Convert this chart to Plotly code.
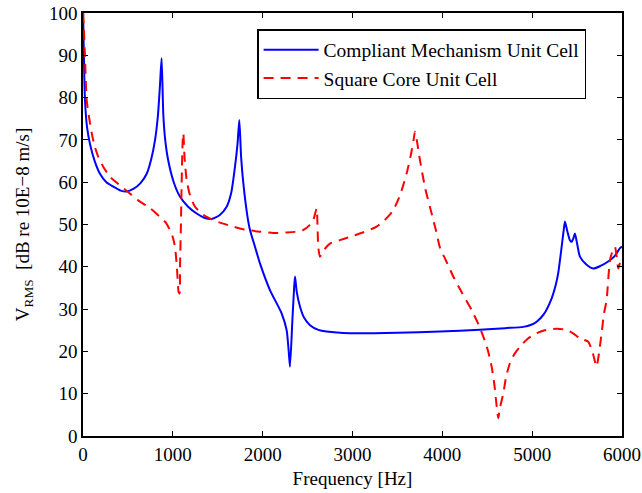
import plotly.graph_objects as go

# Compliant Mechanism Unit Cell (blue solid)
freq_cm = [3, 22, 45, 78, 130, 189, 260, 334, 420, 486, 560, 640, 709, 760, 802, 835, 857, 875,
           894, 915, 950, 1010, 1079, 1170, 1265, 1350, 1432, 1520, 1599, 1650, 1692, 1720, 1740,
           1760, 1785, 1830, 1859, 1915, 1970, 2081, 2211, 2267, 2290, 2304, 2330, 2350, 2360,
           2380, 2415, 2460, 2527, 2620, 2712, 2972, 3500, 3974, 4419, 4700, 4901, 4990, 5050,
           5130, 5216, 5260, 5290, 5328, 5350, 5365, 5390, 5420, 5439, 5460, 5476, 5500, 5532,
           5600, 5680, 5760, 5850, 5920, 5977, 6000]
vrms_cm = [98, 79.5, 73, 69, 65, 62, 60, 59, 58, 57.8, 58.4, 59.8, 62, 65.5, 70, 76, 83, 89.3,
           76, 70, 65, 60, 56.6, 54.2, 52.6, 51.6, 51.3, 52.2, 54.2, 57.5, 63.7, 69, 74.7,
           66, 59.7, 52, 48.7, 44.7, 40.8, 34.5, 29, 25, 20, 16.4, 27, 35, 37.7,
           34, 30.6, 28, 26.2, 25.1, 24.7, 24.3, 24.4, 24.7, 25.1, 25.5, 25.8, 26.3, 27,
           28.8, 32.5, 35.5, 38.5, 44.7, 48.5, 50.7, 48.5, 46.3, 45.9, 46.8, 47.9, 45.5, 42.4,
           40.6, 39.6, 40.2, 41.3, 42.6, 44.4, 44.8]

# Square Core Unit Cell (red dashed)
freq_sq = [3, 22, 41, 70, 97, 130, 170, 230, 300, 370, 449, 540, 634, 750, 857, 920, 968, 1000,
           1024, 1045, 1065, 1075, 1080, 1090, 1098, 1110, 1117, 1130, 1154, 1190, 1247, 1340,
           1451, 1560, 1673, 1800, 1970, 2120, 2267, 2380, 2452, 2520, 2563, 2601, 2610, 2619,
           2638, 2690, 2749, 2860, 2972, 3100, 3269, 3380, 3454, 3530, 3603, 3650, 3680, 3695,
           3715, 3751, 3810, 3881, 3930, 3974, 4040, 4122, 4220, 4326, 4400, 4456, 4510, 4549,
           4580, 4605, 4623, 4640, 4679, 4710, 4752, 4800, 4864, 4950, 5050, 5140, 5235, 5310,
           5383, 5460, 5532, 5580, 5624, 5670, 5700, 5717, 5740, 5773, 5800, 5829, 5866, 5900,
           5922, 5940, 5959, 5980, 6000]
vrms_sq = [100, 89.7, 79.4, 75, 71.6, 68.5, 66, 63.5, 61.3, 60, 58.6, 57, 55.4, 53.8, 51.8, 50.5,
           48.7, 47, 44.7, 40, 34, 33.7, 40, 50, 59.7, 70, 71.6, 66, 60.5, 57, 54.2, 52.3,
           51, 50.2, 49.5, 48.8, 48.3, 48, 48.1, 48.3, 48.7, 49.8, 51, 53.8, 50, 44.7,
           42.4, 44.2, 45.5, 46.3, 47.1, 48, 49.5, 51.5, 53.4, 57, 62.1, 66.5, 70, 71.9,
           70, 65.2, 58.5, 52.6, 48.5, 44.5, 41.5, 37.7, 33.8, 29.8, 26.5, 23.5, 20, 16.4,
           12, 7, 4.2, 6.5, 10.1, 14, 17.2, 19.3, 21.1, 23, 24.3, 25, 25.3, 25.3,
           25.1, 24.2, 23.1, 22.7, 22.3, 20, 17.5, 16.4, 19, 24.3, 29, 32.2, 41.6, 44,
           44.7, 42.5, 39.6, 41, 40]

x_ticks = [0, 1000, 2000, 3000, 4000, 5000, 6000]
y_ticks = [0, 10, 20, 30, 40, 50, 60, 70, 80, 90, 100]

FONT = "Liberation Serif, Times New Roman, serif"
FS = 19

fig = go.Figure()
fig.add_trace(go.Scatter(x=freq_cm, y=vrms_cm, mode="lines",
                         name="Compliant Mechanism Unit Cell",
                         line=dict(color="#0000ff", width=2, shape="spline", smoothing=0.6)))
fig.add_trace(go.Scatter(x=freq_sq, y=vrms_sq, mode="lines",
                         name="Square Core Unit Cell",
                         line=dict(color="#ff0000", width=2, dash="10px,7px",
                                   shape="spline", smoothing=0.6)))

axis_common = dict(showline=True, linecolor="black", linewidth=1.5, mirror="allticks",
                   ticks="inside", ticklen=5, tickwidth=1, tickcolor="black",
                   showgrid=False, zeroline=False, automargin=False,
                   tickfont=dict(family=FONT, size=FS, color="black"))

fig.update_xaxes(range=[0, 6000], tickvals=x_ticks, ticktext=[str(v) for v in x_ticks],
                 title=dict(text="Frequency [Hz]", font=dict(family=FONT, size=FS, color="black"),
                            standoff=8),
                 **axis_common)
fig.update_yaxes(range=[0, 100], tickvals=y_ticks, ticktext=[str(v) for v in y_ticks],
                 title=dict(text="V<sub>RMS</sub>  [dB re 10E\u22128 m/s]",
                            font=dict(family=FONT, size=FS, color="black"), standoff=14),
                 **axis_common)

fig.update_layout(
    width=642, height=493,
    margin=dict(l=83, r=20, t=13, b=57),
    plot_bgcolor="white", paper_bgcolor="white",
    font=dict(family=FONT, size=FS, color="black"),
    legend=dict(x=0.323, y=0.962, xanchor="left", yanchor="top",
                bgcolor="white", bordercolor="black", borderwidth=1.5,
                font=dict(family=FONT, size=19.5, color="black"),
                itemwidth=55, tracegroupgap=0),
    showlegend=True,
)

fig.write_html("out.html")
